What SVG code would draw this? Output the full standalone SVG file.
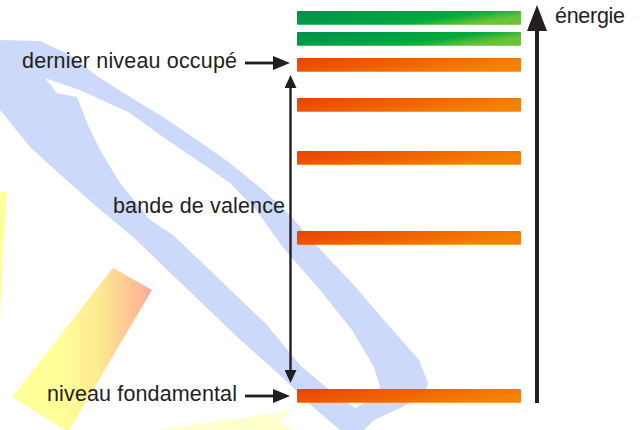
<svg xmlns="http://www.w3.org/2000/svg" width="640" height="430" viewBox="0 0 640 430">
<defs>
<style>
.lbl{font-family:"Liberation Sans",Arial,sans-serif;font-size:21.5px;fill:#231f20}
.ln{stroke:#231f20;fill:none}
.wm{fill:#cdd9fb}
</style>
<linearGradient id="gOr" x1="0" y1="0" x2="1" y2="0.4">
<stop offset="0" stop-color="#ea4000"/>
<stop offset="1" stop-color="#f58200"/>
</linearGradient>
<linearGradient id="gGr" x1="0" y1="0" x2="1" y2="0.4">
<stop offset="0" stop-color="#008f4d"/>
<stop offset="0.72" stop-color="#00ab3d"/>
<stop offset="1" stop-color="#6cc236"/>
</linearGradient>
<linearGradient id="gYl" gradientUnits="userSpaceOnUse" x1="60" y1="0" x2="152" y2="0">
<stop offset="0" stop-color="#ffff99"/>
<stop offset="0.45" stop-color="#fde890"/>
<stop offset="1" stop-color="#ffaa99"/>
</linearGradient>
<marker id="ah" markerUnits="userSpaceOnUse" markerWidth="18" markerHeight="15" refX="0" refY="7" orient="auto" viewBox="0 0 18 14">
<path d="M0,0 L17,7 L0,14 z" fill="#231f20"/>
</marker>
<marker id="ahs" markerUnits="userSpaceOnUse" markerWidth="14" markerHeight="12" refX="0" refY="6" orient="auto-start-reverse" viewBox="0 0 14 12">
<path d="M0,0 L13,6 L0,12 z" fill="#231f20"/>
</marker>
<marker id="ahb" markerUnits="userSpaceOnUse" markerWidth="27" markerHeight="20" refX="0" refY="10" orient="auto" viewBox="0 0 27 20">
<path d="M0,0 L26,10 L0,20 z" fill="#231f20"/>
</marker>
</defs>
<rect width="640" height="430" fill="#ffffff"/>
<g id="watermark">
<path class="wm" fill-rule="evenodd" d="M0,40 L40,41 L70,55 L97,76 L130,97 L163,117 L197,140 L230,163 L263,190 L290,215 L314,243 L352,283 L390,327 L419,360 L428,383 L425,395 L400,408 L374,420 L364,430 L340,430 L313,407 L283,378 L233,333 L183,285 L133,237 L97,207 L63,177 L30,147 L0,110 Z M45,78 L80,90 L130,113 L163,137 L197,160 L230,183 L256,210 L285,250 L320,290 L352,330 L374,367 L380,387 L370,400 L355,408 L333,393 L300,365 L267,325 L217,277 L173,235 L150,220 L120,183 L100,150 L88,125 L77,97 L57,93 Z"/>
<polygon points="113,268 152,290 68,432 12,397" fill="url(#gYl)"/>
<polygon points="0,192 7,192 3,250 0,320" fill="#ffff99"/>
<polygon points="157,430 292,411 278,421 293,430" fill="#ffffcc"/>
</g>
<g id="levels">
<rect id="level-7" x="297" y="11" width="224" height="13.7" rx="1" fill="url(#gGr)"/>
<rect id="level-6" x="297" y="32" width="224" height="13.7" rx="1" fill="url(#gGr)"/>
<rect id="level-5" x="297" y="58" width="224" height="13.7" rx="1" fill="url(#gOr)"/>
<rect id="level-4" x="297" y="98" width="224" height="13.7" rx="1" fill="url(#gOr)"/>
<rect id="level-3" x="297" y="151" width="224" height="13.7" rx="1" fill="url(#gOr)"/>
<rect id="level-2" x="297" y="231" width="224" height="13.7" rx="1" fill="url(#gOr)"/>
<rect id="level-1" x="297" y="389" width="224" height="13.7" rx="1" fill="url(#gOr)"/>
</g>
<g id="label-dernier"><text class="lbl" x="237" y="67.5" text-anchor="end" textLength="215">dernier niveau occupé</text></g>
<g id="label-bande"><text class="lbl" x="285" y="212.5" text-anchor="end" textLength="172">bande de valence</text></g>
<g id="label-fondamental"><text class="lbl" x="237" y="400.5" text-anchor="end" textLength="190">niveau fondamental</text></g>
<g id="label-energie"><text class="lbl" x="555" y="22.5" textLength="70">énergie</text></g>
<g id="connectors">
<line class="ln" x1="245" y1="63" x2="273" y2="63" stroke-width="2.8" marker-end="url(#ah)"/>
<line class="ln" x1="245" y1="396" x2="273" y2="396" stroke-width="2.8" marker-end="url(#ah)"/>
<line class="ln" x1="290.5" y1="88" x2="290.5" y2="370" stroke-width="2.4" marker-start="url(#ahs)" marker-end="url(#ahs)"/>
<line class="ln" x1="537" y1="403" x2="537" y2="31" stroke-width="4" marker-end="url(#ahb)"/>
</g>
</svg>
